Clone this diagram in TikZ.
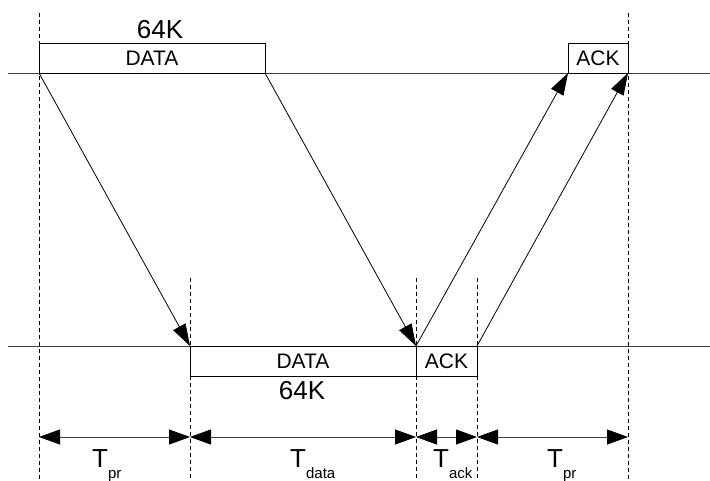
\documentclass[tikz,border=0pt]{standalone}
\usepackage{fontspec}
\setmainfont{Liberation Sans}
\usetikzlibrary{arrows.meta}
\begin{document}
\begin{tikzpicture}[x=1pt,y=-1pt,
  box/.style={draw, line width=0.8pt, inner sep=0pt, outer sep=0pt, minimum height=30pt, font=\fontsize{21}{21}\selectfont},
  guide/.style={dash pattern=on 4pt off 3pt, line width=0.6pt},
  axis/.style={line width=0.8pt, black!75},
  sig/.style={line width=0.8pt, -{Triangle[length=22pt,width=14pt]}},
  dim/.style={line width=0.8pt, black!75, {Triangle[length=21pt,width=15pt,fill=black,color=black]}-{Triangle[length=21pt,width=15pt,fill=black,color=black]}},
  big/.style={font=\fontsize{26}{26}\selectfont, inner sep=0pt},
  tlab/.style={anchor=base west, inner sep=0pt}]
\useasboundingbox (0,0) rectangle (710,480);
% time lines
\coordinate (tl) at (8,73);
\coordinate (tr) at (710,73);
\coordinate (bl) at (8,346);
\coordinate (br) at (710,346);
\draw[axis] (tl) -- (tr);
\draw[axis] (bl) -- (br);
% guides
\coordinate (g1a) at (39,13);  \coordinate (g1b) at (39,480);
\coordinate (g2a) at (628,13); \coordinate (g2b) at (628,480);
\coordinate (g3a) at (190,278); \coordinate (g3b) at (190,480);
\coordinate (g4a) at (416,278); \coordinate (g4b) at (416,480);
\coordinate (g5a) at (477,278); \coordinate (g5b) at (477,480);
\draw[guide] (g1a) -- (g1b);
\draw[guide] (g2a) -- (g2b);
\draw[guide] (g3a) -- (g3b);
\draw[guide] (g4a) -- (g4b);
\draw[guide] (g5a) -- (g5b);
% boxes
\node[box, fill=white, minimum width=226pt, anchor=south west] (dataA) at (39,73) {DATA};
\node[box, fill=white, minimum width=60pt, anchor=south west] (ackA) at (568,73) {ACK};
\node[box, fill=white, minimum width=226pt, anchor=north west] (dataB) at (190,346) {DATA};
\node[box, fill=white, minimum width=61pt, anchor=north west] (ackB) at (416,346) {ACK};
\node[big, anchor=base] (kA) at (160,38) {64K};
\node[big, anchor=base] (kB) at (302,399) {64K};
% signals
\draw[sig] (dataA.south west) -- (dataB.north west);
\draw[sig] (dataA.south east) -- (dataB.north east);
\draw[sig] (ackB.north west) -- (ackA.south west);
\draw[sig] (ackB.north east) -- (ackA.south east);
% dimensions
\coordinate (d1) at (39,437);
\coordinate (d2) at (190,437);
\coordinate (d3) at (416,437);
\coordinate (d4) at (477,437);
\coordinate (d5) at (628,437);
\draw[dim] (d1) -- (d2);
\draw[dim] (d2) -- (d3);
\draw[dim] (d3) -- (d4);
\draw[dim] (d4) -- (d5);
\node[tlab] (l1) at (92,467) {\fontsize{26}{26}\selectfont T\raisebox{-11pt}{\fontsize{15}{15}\selectfont pr}};
\node[tlab] (l2) at (290,467) {\fontsize{26}{26}\selectfont T\raisebox{-11pt}{\fontsize{15}{15}\selectfont data}};
\node[tlab] (l3) at (433,467) {\fontsize{26}{26}\selectfont T\raisebox{-11pt}{\fontsize{15}{15}\selectfont ack}};
\node[tlab] (l4) at (547,467) {\fontsize{26}{26}\selectfont T\raisebox{-11pt}{\fontsize{15}{15}\selectfont pr}};
\end{tikzpicture}
\end{document}
